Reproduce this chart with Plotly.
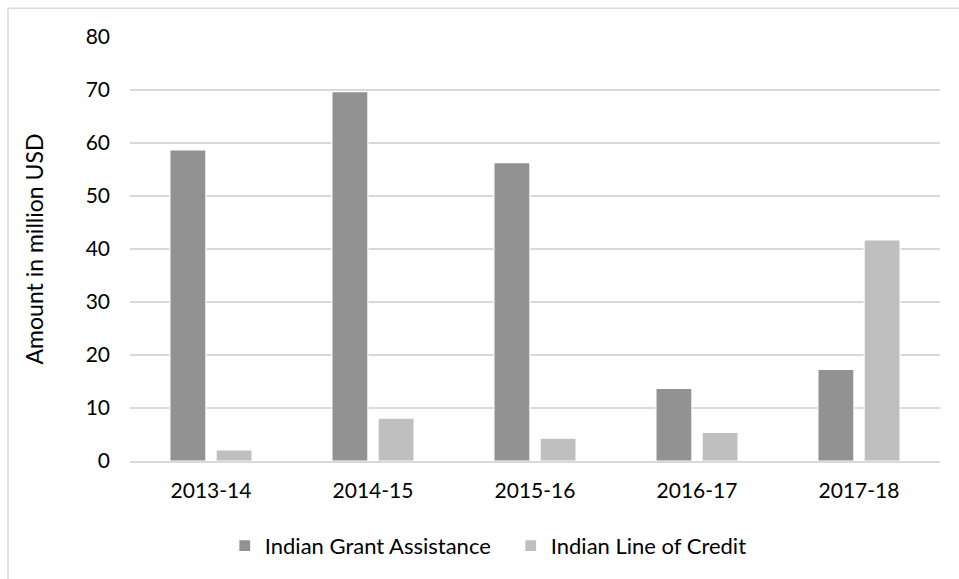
import plotly.graph_objects as go

# Indian development assistance by financial year (million USD)
years = ["2013-14", "2014-15", "2015-16", "2016-17", "2017-18"]
grant_assistance = [58.7, 69.7, 56.3, 13.7, 17.3]
line_of_credit = [2.1, 8.1, 4.3, 5.4, 41.7]

series_names = ["Indian Grant Assistance", "Indian Line of Credit"]
series_colors = ["#929292", "#bfbfbf"]

FONT = "Lato, Calibri, Carlito, sans-serif"
GRID = "#d9d9d9"

fig = go.Figure()
for name, vals, col in zip(series_names, [grant_assistance, line_of_credit], series_colors):
    fig.add_trace(go.Bar(
        x=years, y=vals, name=name,
        marker=dict(color=col, line=dict(color="white", width=1.2)),
        hoverinfo="x+y+name",
    ))

fig.update_layout(
    width=959, height=579,
    margin=dict(l=130, r=19, t=37, b=118),
    paper_bgcolor="white", plot_bgcolor="white",
    barmode="group", bargap=0.43, bargroupgap=0.22,
    font=dict(family=FONT, size=21, color="#000000"),
    showlegend=True,
    legend=dict(
        orientation="h", x=0.117, xanchor="left", y=-0.20, yanchor="middle",
        font=dict(family=FONT, size=22, color="#000000"),
        itemwidth=30, entrywidth=241, entrywidthmode="pixels",
        bgcolor="rgba(0,0,0,0)",
    ),
    xaxis=dict(
        showgrid=False, showline=True, linecolor=GRID, linewidth=1.5,
        ticks="", tickfont=dict(size=21), zeroline=False, ticklabelstandoff=10,
    ),
    yaxis=dict(
        range=[0, 80], dtick=10, showgrid=True, gridcolor=GRID, gridwidth=1.5,
        zeroline=False, showline=False, ticks="", ticklabelstandoff=19,
        title=dict(text="Amount in million USD", font=dict(size=23), standoff=35),
        tickfont=dict(size=21),
    ),
    shapes=[dict(
        type="rect", xref="paper", yref="paper",
        x0=-0.1506, x1=1.044, y0=-0.45, y1=1.068,
        line=dict(color=GRID, width=1.5), fillcolor="rgba(0,0,0,0)", layer="below",
    )],
)

fig.write_html("out.html")
